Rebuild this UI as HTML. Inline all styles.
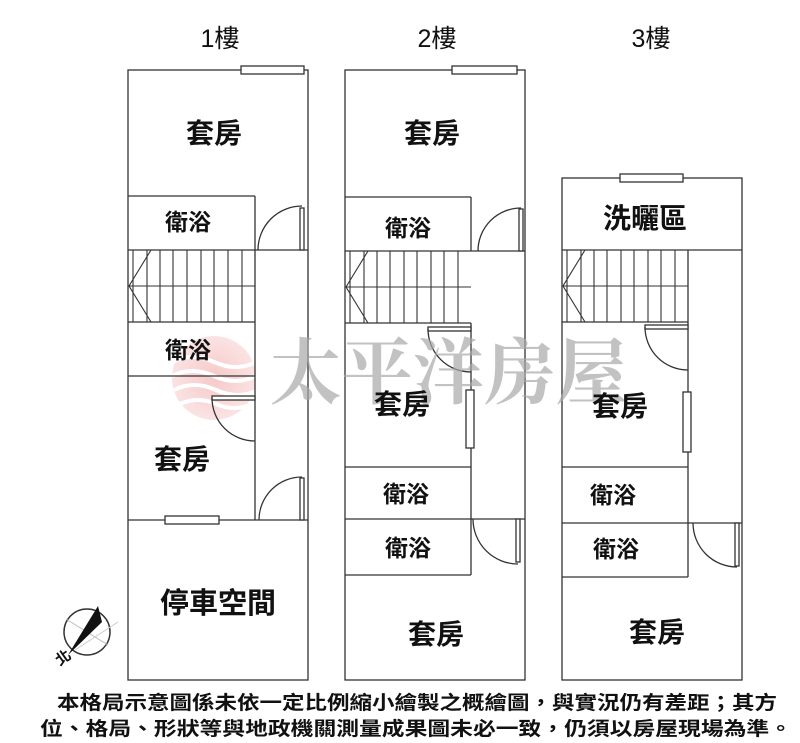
<!DOCTYPE html>
<html><head><meta charset="utf-8"><style>
html,body{margin:0;padding:0;background:#fff}
svg{display:block}
.t{font-family:"Liberation Sans","Noto Sans CJK TC",sans-serif;fill:#111}
</style></head><body>
<svg width="800" height="743" viewBox="0 0 800 743" xmlns="http://www.w3.org/2000/svg">
<rect width="800" height="743" fill="#fff"/>
<defs><radialGradient id="lg" cx="0.5" cy="0.5" r="0.5"><stop offset="0" stop-color="#f6c9c9"/><stop offset="1" stop-color="#fbe3e3"/></radialGradient></defs>
<circle cx="214" cy="378" r="42" fill="url(#lg)"/>
<g stroke="#fff" stroke-width="4" fill="none">
<path d="M172 362 q20 -10 42 0 t42 0"/><path d="M172 376 q20 -10 42 0 t42 0"/><path d="M174 390 q20 -10 42 0 t42 0"/><path d="M180 404 q18 -8 36 0 t36 0"/>
</g>
<g fill="none" stroke="#333" stroke-width="1.3">
<rect x="128" y="70" width="180" height="610"/>
<line x1="128" y1="196" x2="255" y2="196"/>
<line x1="255" y1="196" x2="255" y2="520"/>
<line x1="128" y1="250" x2="308" y2="250"/>
<line x1="128" y1="322" x2="255" y2="322"/>
<line x1="128" y1="376" x2="255" y2="376"/>
<line x1="128" y1="520" x2="308" y2="520"/>
<g stroke-width="1.1">
<line x1="133" y1="250" x2="133" y2="322"/><line x1="147" y1="250" x2="147" y2="322"/><line x1="160" y1="250" x2="160" y2="322"/><line x1="173" y1="250" x2="173" y2="322"/><line x1="187" y1="250" x2="187" y2="322"/><line x1="201" y1="250" x2="201" y2="322"/><line x1="214" y1="250" x2="214" y2="322"/><line x1="228" y1="250" x2="228" y2="322"/><line x1="242" y1="250" x2="242" y2="322"/>
<line x1="128" y1="286" x2="255" y2="286"/>
<polyline points="151,250 129,286 151,322"/>
</g>
<rect x="300" y="208" width="4" height="42" fill="#fff"/>
<path d="M258 250 A44 44 0 0 1 302 206"/>
<rect x="212" y="396" width="43" height="4" fill="#fff"/>
<path d="M212 398 A43 43 0 0 0 255 441"/>
<rect x="300" y="478" width="4" height="42" fill="#fff"/>
<path d="M259 520 A43 43 0 0 1 302 477"/>
<rect x="241" y="66" width="63" height="8" fill="#fff"/>
<rect x="165" y="516" width="54" height="8" fill="#fff"/>

<rect x="345" y="70" width="180" height="610"/>
<line x1="345" y1="197" x2="471" y2="197"/>
<line x1="471" y1="197" x2="471" y2="251"/>
<line x1="345" y1="251" x2="525" y2="251"/>
<line x1="345" y1="323" x2="471" y2="323"/>
<line x1="471" y1="323" x2="471" y2="575"/>
<line x1="345" y1="467" x2="471" y2="467"/>
<line x1="345" y1="519" x2="525" y2="519"/>
<line x1="345" y1="575" x2="471" y2="575"/>
<g stroke-width="1.1">
<line x1="350" y1="251" x2="350" y2="323"/><line x1="364" y1="251" x2="364" y2="323"/><line x1="377" y1="251" x2="377" y2="323"/><line x1="390" y1="251" x2="390" y2="323"/><line x1="404" y1="251" x2="404" y2="323"/><line x1="417" y1="251" x2="417" y2="323"/><line x1="431" y1="251" x2="431" y2="323"/><line x1="444" y1="251" x2="444" y2="323"/><line x1="458" y1="251" x2="458" y2="323"/>
<line x1="345" y1="287" x2="471" y2="287"/>
<polyline points="368,251 346,287 368,323"/>
</g>
<rect x="519" y="209" width="4" height="42" fill="#fff"/>
<path d="M478 251 A43 43 0 0 1 521 208"/>
<rect x="428" y="327" width="43" height="4" fill="#fff"/>
<path d="M428 329 A43 43 0 0 0 471 372"/>
<rect x="516" y="519" width="4" height="43" fill="#fff"/>
<path d="M473 519 A45 45 0 0 0 518 564"/>
<rect x="452" y="66" width="65" height="8" fill="#fff"/>
<rect x="466" y="390" width="8" height="58" fill="#fff"/>

<rect x="562" y="178" width="180" height="502"/>
<line x1="562" y1="250" x2="742" y2="250"/>
<line x1="562" y1="322" x2="688" y2="322"/>
<line x1="688" y1="250" x2="688" y2="577"/>
<line x1="562" y1="467" x2="688" y2="467"/>
<line x1="562" y1="523" x2="742" y2="523"/>
<line x1="562" y1="577" x2="688" y2="577"/>
<g stroke-width="1.1">
<line x1="567" y1="250" x2="567" y2="322"/><line x1="581" y1="250" x2="581" y2="322"/><line x1="594" y1="250" x2="594" y2="322"/><line x1="607" y1="250" x2="607" y2="322"/><line x1="621" y1="250" x2="621" y2="322"/><line x1="634" y1="250" x2="634" y2="322"/><line x1="648" y1="250" x2="648" y2="322"/><line x1="661" y1="250" x2="661" y2="322"/><line x1="675" y1="250" x2="675" y2="322"/>
<line x1="562" y1="286" x2="688" y2="286"/>
<polyline points="585,250 563,286 585,322"/>
</g>
<rect x="645" y="325" width="43" height="4" fill="#fff"/>
<path d="M645 327 A43 43 0 0 0 688 370"/>
<rect x="735" y="523" width="4" height="43" fill="#fff"/>
<path d="M693 523 A44 44 0 0 0 737 567"/>
<rect x="620" y="174" width="63" height="8" fill="#fff"/>
<rect x="683" y="392" width="8" height="60" fill="#fff"/>
</g>

<text x="270" y="398" font-family="'Noto Serif CJK SC','Noto Serif CJK TC',serif" font-weight="bold" font-size="72" fill="#a8a8a8" fill-opacity="0.7" textLength="357" lengthAdjust="spacingAndGlyphs">太平洋房屋</text>

<g class="t" font-size="25" text-anchor="middle">
<text x="220" y="47">1樓</text><text x="437" y="47">2樓</text><text x="651" y="47">3樓</text>
</g>
<g class="t" font-size="28" font-weight="bold" text-anchor="middle">
<text x="214" y="143">套房</text><text x="182" y="469">套房</text><text x="218" y="613" font-size="29">停車空間</text>
<text x="432" y="143">套房</text><text x="402" y="414">套房</text><text x="436" y="644">套房</text>
<text x="645" y="228">洗曬區</text><text x="620" y="416">套房</text><text x="657" y="642">套房</text>
</g>
<g class="t" font-size="23" font-weight="bold" text-anchor="middle">
<text x="188" y="230">衛浴</text><text x="188" y="358">衛浴</text>
<text x="408" y="236">衛浴</text><text x="406" y="502">衛浴</text><text x="408" y="556">衛浴</text>
<text x="613" y="503">衛浴</text><text x="616" y="557">衛浴</text>
</g>

<circle cx="87" cy="632" r="23" fill="none" stroke="#333" stroke-width="1.5"/>
<line x1="66" y1="619" x2="108" y2="645" stroke="#bbb" stroke-width="1"/>
<line x1="75" y1="650" x2="118" y2="622" stroke="#ccc" stroke-width="1"/>
<polygon points="98,606 102,622 68,655" fill="#111"/>
<text x="57" y="667" class="t" font-size="15" font-weight="bold" transform="rotate(-35 57 662)">北</text>

<g class="t" font-size="19" font-weight="bold">
<text x="57" y="709" textLength="720" lengthAdjust="spacingAndGlyphs">本格局示意圖係未依一定比例縮小繪製之概繪圖，與實況仍有差距；其方</text>
<text x="40" y="735" textLength="752" lengthAdjust="spacingAndGlyphs">位、格局、形狀等與地政機關測量成果圖未必一致，仍須以房屋現場為準。</text>
</g>
</svg>
</body></html>
